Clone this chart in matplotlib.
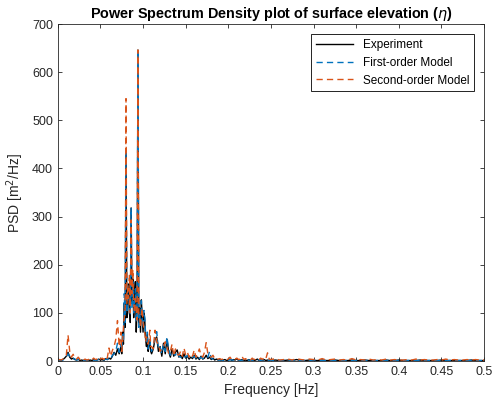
import numpy as np
import matplotlib.pyplot as plt

plt.rcParams['font.family'] = ['Liberation Sans', 'DejaVu Sans']

# frequency grid: finer around the spectral peak, coarser in the tail
freq = np.r_[np.arange(0, 0.0735, 0.002),
             np.arange(0.074, 0.1095, 0.001),
             np.arange(0.11, 0.2485, 0.002),
             np.arange(0.25, 0.5001, 0.005)]

# PSD values [m^2/Hz]
experiment = [
    1, 2, 1, 3, 6, 10, 18, 8, 4, 6, 3, 2, 4, 1, 2, 1, 2, 1, 1, 2,
    1, 3, 1, 2, 4, 2, 3, 1, 5, 3, 6, 4, 10, 18, 12, 25, 15,
    # 0.074 - 0.109 (step 0.001)
    30, 15, 60, 35, 120, 70, 440, 90, 100, 160, 150, 80, 318, 120, 170, 90, 140, 165,
    60, 110, 646, 80, 110, 60, 127, 90, 60, 100, 85, 45, 30, 55, 20, 35, 40, 20,
    # 0.110 - 0.248
    15, 25, 45, 50, 20, 30, 10, 37, 15, 45, 20, 8, 25, 10, 18,
    23, 8, 12, 5, 15, 6, 10, 4, 8, 5, 12, 4, 8, 3, 10, 4, 6, 12, 5, 8,
    3, 6, 2, 4, 2, 3, 1, 2, 3, 1,
    2, 4, 1, 3, 2, 5, 1, 2, 3, 1, 2, 1, 3, 1, 2, 1, 2, 4, 1, 2, 1, 3, 1, 2, 1,
    # 0.25 - 0.5
    1, 2, 1, 1, 2, 1, 3, 1, 1, 2, 1, 1, 2, 1, 1, 2, 1, 1, 1, 2, 1, 1, 2, 1, 1,
    1, 1, 2, 1, 1, 2, 1, 1, 1, 1, 2, 1, 1, 1, 1, 2, 1, 1, 1, 1, 1, 1, 2, 1, 1, 1,
]
first_order = [
    1, 1, 2, 2, 5, 9, 15, 10, 5, 5, 4, 2, 3, 2, 1, 1, 2, 1, 2, 1,
    2, 2, 1, 2, 3, 3, 2, 2, 4, 3, 5, 3, 12, 15, 20, 37, 18,
    35, 25, 55, 40, 140, 80, 443, 100, 120, 150, 140, 95, 318, 110, 165, 100, 120, 150,
    80, 120, 646, 70, 100, 75, 125, 85, 70, 105, 90, 55, 40, 60, 25, 40, 45, 25,
    20, 30, 50, 61, 25, 28, 15, 35, 20, 50, 25, 12, 20, 15, 12,
    20, 10, 8, 6, 10, 8, 12, 5, 6, 8, 10, 6, 10, 5, 8, 5, 8, 10, 8, 20,
    5, 4, 3, 3, 2, 2, 2, 1, 2, 2,
    1, 3, 2, 2, 3, 4, 2, 1, 2, 2, 1, 2, 2, 1, 1, 2, 1, 3, 2, 1, 2, 2, 1, 1, 2,
    1, 1, 1, 2, 1, 1, 2, 1, 1, 1, 2, 1, 1, 1, 1, 1, 2, 1, 1, 1, 1, 1, 1, 1, 1,
    1, 1, 1, 1, 1, 1, 1, 1, 1, 1, 1, 1, 1, 1, 1, 1, 1, 1, 1, 1, 1, 1, 1, 1, 1, 1,
]
second_order = [
    2, 3, 2, 4, 8, 12, 54, 20, 8, 14, 6, 4, 8, 3, 5, 2, 4, 2, 3, 5,
    2, 6, 3, 4, 8, 4, 6, 3, 10, 6, 27, 10, 22, 30, 45, 84, 30,
    60, 20, 40, 70, 90, 110, 545, 120, 150, 130, 180, 100, 293, 140, 190, 120, 100, 130,
    110, 85, 646, 95, 90, 70, 95, 110, 80, 65, 60, 40, 50, 45, 35, 50, 64, 30,
    30, 25, 64, 40, 35, 20, 25, 30, 40, 30, 15, 20, 35, 10, 25,
    15, 12, 20, 10, 27, 12, 18, 8, 15, 10, 23, 8, 15, 25, 12, 8, 18, 38, 15, 10,
    8, 12, 5, 6, 4, 5, 3, 4, 5, 3,
    4, 8, 3, 5, 4, 6, 3, 4, 10, 3, 5, 3, 4, 2, 6, 3, 4, 5, 3, 6, 3, 8, 5, 17, 4,
    3, 5, 2, 3, 4, 2, 5, 3, 2, 4, 3, 2, 5, 2, 3, 4, 2, 3, 2, 5, 2, 3, 2, 4, 2,
    3, 2, 4, 2, 3, 2, 2, 3, 2, 4, 2, 3, 2, 2, 3, 2, 4, 2, 3, 2, 2, 3, 2, 3, 2, 2,
]

xticks = [0, 0.05, 0.1, 0.15, 0.2, 0.25, 0.3, 0.35, 0.4, 0.45, 0.5]
xticklabels = ['0', '0.05', '0.1', '0.15', '0.2', '0.25', '0.3', '0.35', '0.4', '0.45', '0.5']
yticks = [0, 100, 200, 300, 400, 500, 600, 700]

fig = plt.figure(figsize=(4.94, 4.07), dpi=100)
ax = fig.add_axes([0.117, 0.113, 0.863, 0.828])

ax.plot(freq[:len(experiment)], experiment, color='black', lw=1.0, label='Experiment')
ax.plot(freq[:len(first_order)], first_order, color='#0072BD', lw=1.0,
        dashes=(4.5, 3), label='First-order Model')
ax.plot(freq[:len(second_order)], second_order, color='#D95319', lw=1.0,
        dashes=(4.5, 3), label='Second-order Model')

ax.set_xlim(0, 0.5)
ax.set_ylim(0, 700)
ax.set_xticks(xticks)
ax.set_xticklabels(xticklabels)
ax.set_yticks(yticks)
ax.tick_params(direction='in', top=True, right=True, labelsize=9, length=3,
               color='#262626', labelcolor='#262626', width=0.6)
for s in ax.spines.values():
    s.set_color('#262626')
    s.set_linewidth(0.6)

ax.set_xlabel('Frequency [Hz]', fontsize=10, color='#262626')
ax.set_ylabel('PSD [m$^2$/Hz]', fontsize=10, color='#262626')
ax.set_title(r'Power Spectrum Density plot of surface elevation ($\eta$)',
             fontsize=10.4, fontweight='bold', pad=4)

leg = ax.legend(loc='upper right', fontsize=8.5, fancybox=False, framealpha=1,
                edgecolor='black', borderaxespad=0.85, handlelength=3.2)
leg.get_frame().set_linewidth(0.6)

fig.savefig('out.png', dpi=100)
